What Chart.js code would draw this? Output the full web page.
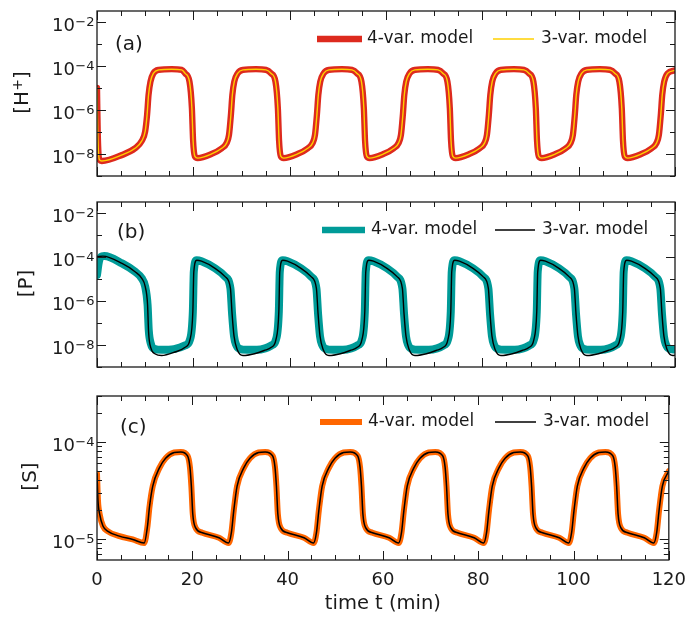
<!DOCTYPE html>
<html>
<head>
<meta charset="utf-8">
<title>Model comparison</title>
<script src="https://cdn.jsdelivr.net/npm/chart.js@4.4.0/dist/chart.umd.min.js"></script>
<style>
  body { margin: 0; background: #fff; }
  #wrap { position: relative; width: 696px; height: 619px; }
  #wrap canvas { position: absolute; left: 0; }
</style>
</head>
<body>
<div id="wrap">
  <canvas id="panelA" width="696" height="190" style="top:0"></canvas>
  <canvas id="panelB" width="696" height="190" style="top:190px"></canvas>
  <canvas id="panelC" width="696" height="239" style="top:380px"></canvas>
</div>
<script>
// ---- data (time in min, concentrations) ----
const seriesLabels = ['4-var. model', '3-var. model'];

// [H+], both models lie on top of each other
const hTime = [
  0, 0.15, 0.5, 1.0, 5.2, 7.9, 9.3, 10.0, 10.4, 10.7, 11.1, 11.7, 12.8, 15.5, 17.6,
  18.3, 19.2, 19.7, 19.95, 20.3, 20.9, 23.8, 25.9, 26.9, 27.4, 27.8, 28.1, 28.5, 29.2, 30.3, 33.0, 35.1,
  36.15, 37.05, 37.55, 37.8, 38.15, 38.75, 41.65, 43.75, 44.75, 45.25, 45.65, 45.95, 46.35, 47.05, 48.15, 50.85, 52.95,
  54.0, 54.9, 55.4, 55.65, 56.0, 56.6, 59.5, 61.6, 62.6, 63.1, 63.5, 63.8, 64.2, 64.9, 66.0, 68.7, 70.8,
  71.85, 72.75, 73.25, 73.5, 73.85, 74.45, 77.35, 79.45, 80.45, 80.95, 81.35, 81.65, 82.05, 82.75, 83.85, 86.55, 88.65,
  89.7, 90.6, 91.1, 91.35, 91.7, 92.3, 95.2, 97.3, 98.3, 98.8, 99.2, 99.5, 99.9, 100.6, 101.7, 104.4, 106.5,
  107.55, 108.45, 108.95, 109.2, 109.55, 110.15, 113.05, 115.15, 116.15, 116.65, 117.05, 117.35, 117.75, 118.45, 120
];
const hConc = [
  1e-5, 1e-7, 5.5e-9, 4.8e-9, 9e-9, 1.8e-8, 3.9e-8, 1.05e-7, 6e-7, 4.7e-6, 1.9e-5, 4.5e-5, 6.5e-5, 7e-5, 6.5e-5,
  4.5e-5, 1.9e-5, 1.2e-6, 4e-8, 8e-9, 6.5e-9, 1e-8, 1.8e-8, 3.1e-8, 7.2e-8, 5.9e-7, 4.7e-6, 1.9e-5, 4.5e-5, 6.5e-5, 7e-5, 6.5e-5,
  4.5e-5, 1.9e-5, 1.2e-6, 4e-8, 8e-9, 6.5e-9, 1e-8, 1.8e-8, 3.1e-8, 7.2e-8, 5.9e-7, 4.7e-6, 1.9e-5, 4.5e-5, 6.5e-5, 7e-5, 6.5e-5,
  4.5e-5, 1.9e-5, 1.2e-6, 4e-8, 8e-9, 6.5e-9, 1e-8, 1.8e-8, 3.1e-8, 7.2e-8, 5.9e-7, 4.7e-6, 1.9e-5, 4.5e-5, 6.5e-5, 7e-5, 6.5e-5,
  4.5e-5, 1.9e-5, 1.2e-6, 4e-8, 8e-9, 6.5e-9, 1e-8, 1.8e-8, 3.1e-8, 7.2e-8, 5.9e-7, 4.7e-6, 1.9e-5, 4.5e-5, 6.5e-5, 7e-5, 6.5e-5,
  4.5e-5, 1.9e-5, 1.2e-6, 4e-8, 8e-9, 6.5e-9, 1e-8, 1.8e-8, 3.1e-8, 7.2e-8, 5.9e-7, 4.7e-6, 1.9e-5, 4.5e-5, 6.5e-5, 7e-5, 6.5e-5,
  4.5e-5, 1.9e-5, 1.2e-6, 4e-8, 8e-9, 6.5e-9, 1e-8, 1.8e-8, 3.1e-8, 7.2e-8, 5.9e-7, 4.7e-6, 1.9e-5, 4.5e-5, 6.2e-5
];

// [P], 4-var model (thick teal)
const pTime4 = [
  0, 0.4, 1.0, 1.5, 5.2, 7.9, 9.3, 10.0, 10.5, 10.75, 11.2, 11.8, 13.5, 16.0, 18.3,
  19.3, 19.9, 20.1, 20.7, 21.7, 24.5, 26.6, 27.7, 28.05, 28.45, 28.9, 29.5, 31.2, 33.2, 34.9, 36.2,
  37.15, 37.75, 37.95, 38.55, 39.55, 42.35, 44.45, 45.55, 45.9, 46.3, 46.75, 47.35, 49.05, 51.05, 52.75, 54.05,
  55.0, 55.6, 55.8, 56.4, 57.4, 60.2, 62.3, 63.4, 63.75, 64.15, 64.6, 65.2, 66.9, 68.9, 70.6, 71.9,
  72.85, 73.45, 73.65, 74.25, 75.25, 78.05, 80.15, 81.25, 81.6, 82.0, 82.45, 83.05, 84.75, 86.75, 88.45, 89.75,
  90.7, 91.3, 91.5, 92.1, 93.1, 95.9, 98.0, 99.1, 99.45, 99.85, 100.3, 100.9, 102.6, 104.6, 106.3, 107.6,
  108.55, 109.15, 109.35, 109.95, 110.95, 113.75, 115.85, 116.95, 117.3, 117.7, 118.15, 118.75, 120
];
const pConc4 = [
  1.5e-5, 6e-5, 1.05e-4, 1.07e-4, 5e-5, 2.1e-5, 1.05e-5, 4.5e-6, 6.6e-7, 4.5e-8, 1.1e-8, 6.8e-9, 6e-9, 6.5e-9, 9.5e-9,
  1.74e-8, 3.3e-7, 2.1e-5, 7e-5, 6.3e-5, 3e-5, 1.26e-5, 3.7e-6, 2.5e-7, 2.5e-8, 1e-8, 6.8e-9, 6e-9, 6e-9, 7e-9, 9.5e-9,
  1.74e-8, 3.3e-7, 2.1e-5, 7e-5, 6.3e-5, 3e-5, 1.26e-5, 3.7e-6, 2.5e-7, 2.5e-8, 1e-8, 6.8e-9, 6e-9, 6e-9, 7e-9, 9.5e-9,
  1.74e-8, 3.3e-7, 2.1e-5, 7e-5, 6.3e-5, 3e-5, 1.26e-5, 3.7e-6, 2.5e-7, 2.5e-8, 1e-8, 6.8e-9, 6e-9, 6e-9, 7e-9, 9.5e-9,
  1.74e-8, 3.3e-7, 2.1e-5, 7e-5, 6.3e-5, 3e-5, 1.26e-5, 3.7e-6, 2.5e-7, 2.5e-8, 1e-8, 6.8e-9, 6e-9, 6e-9, 7e-9, 9.5e-9,
  1.74e-8, 3.3e-7, 2.1e-5, 7e-5, 6.3e-5, 3e-5, 1.26e-5, 3.7e-6, 2.5e-7, 2.5e-8, 1e-8, 6.8e-9, 6e-9, 6e-9, 7e-9, 9.5e-9,
  1.74e-8, 3.3e-7, 2.1e-5, 7e-5, 6.3e-5, 3e-5, 1.26e-5, 3.7e-6, 2.5e-7, 2.5e-8, 1e-8, 6.8e-9, 6.2e-9
];

// [P], 3-var model (thin black, dips lower at the minima)
const pTime3 = [
  0, 1.2, 5.2, 7.9, 9.3, 10.0, 10.5, 10.7, 11.2, 12.1, 13.4, 16.2, 18.3,
  19.3, 19.9, 20.1, 20.7, 21.7, 24.5, 26.6, 27.7, 28.05, 28.45, 29.1, 30.3, 32.7, 34.7, 36.2,
  37.15, 37.75, 37.95, 38.55, 39.55, 42.35, 44.45, 45.55, 45.9, 46.3, 46.95, 48.15, 50.55, 52.55, 54.05,
  55.0, 55.6, 55.8, 56.4, 57.4, 60.2, 62.3, 63.4, 63.75, 64.15, 64.8, 66.0, 68.4, 70.4, 71.9,
  72.85, 73.45, 73.65, 74.25, 75.25, 78.05, 80.15, 81.25, 81.6, 82.0, 82.65, 83.85, 86.25, 88.25, 89.75,
  90.7, 91.3, 91.5, 92.1, 93.1, 95.9, 98.0, 99.1, 99.45, 99.85, 100.5, 101.7, 104.1, 106.1, 107.6,
  108.55, 109.15, 109.35, 109.95, 110.95, 113.75, 115.85, 116.95, 117.3, 117.7, 118.35, 119.55, 120
];
const pConc3 = [
  1e-4, 1.07e-4, 5e-5, 2.1e-5, 1.05e-5, 4.5e-6, 6.6e-7, 4.1e-8, 7.2e-9, 3.9e-9, 3.3e-9, 4.8e-9, 7.8e-9,
  1.74e-8, 3.3e-7, 2.1e-5, 7e-5, 6.3e-5, 3e-5, 1.26e-5, 3.7e-6, 2.5e-7, 2.5e-8, 6.2e-9, 3.3e-9, 4e-9, 5.6e-9, 7.8e-9,
  1.74e-8, 3.3e-7, 2.1e-5, 7e-5, 6.3e-5, 3e-5, 1.26e-5, 3.7e-6, 2.5e-7, 2.5e-8, 6.2e-9, 3.3e-9, 4e-9, 5.6e-9, 7.8e-9,
  1.74e-8, 3.3e-7, 2.1e-5, 7e-5, 6.3e-5, 3e-5, 1.26e-5, 3.7e-6, 2.5e-7, 2.5e-8, 6.2e-9, 3.3e-9, 4e-9, 5.6e-9, 7.8e-9,
  1.74e-8, 3.3e-7, 2.1e-5, 7e-5, 6.3e-5, 3e-5, 1.26e-5, 3.7e-6, 2.5e-7, 2.5e-8, 6.2e-9, 3.3e-9, 4e-9, 5.6e-9, 7.8e-9,
  1.74e-8, 3.3e-7, 2.1e-5, 7e-5, 6.3e-5, 3e-5, 1.26e-5, 3.7e-6, 2.5e-7, 2.5e-8, 6.2e-9, 3.3e-9, 4e-9, 5.6e-9, 7.8e-9,
  1.74e-8, 3.3e-7, 2.1e-5, 7e-5, 6.3e-5, 3e-5, 1.26e-5, 3.7e-6, 2.5e-7, 2.5e-8, 6.2e-9, 3.3e-9, 3.4e-9
];

// [S], both models coincide
const sTime = [
  0, 0.2, 0.55, 1.25, 2.3, 4.7, 7.5, 9.9, 10.6, 11.0, 11.7, 13.1, 14.4, 16.2, 17.6,
  19.0, 19.5, 19.8, 20.1, 20.7, 22.1, 25.6, 27.6, 28.2, 28.7, 29.4, 30.8, 32.1, 33.9, 35.3,
  36.85, 37.35, 37.65, 37.95, 38.55, 39.95, 43.45, 45.45, 46.05, 46.55, 47.25, 48.65, 49.95, 51.75, 53.15,
  54.7, 55.2, 55.5, 55.8, 56.4, 57.8, 61.3, 63.3, 63.9, 64.4, 65.1, 66.5, 67.8, 69.6, 71.0,
  72.55, 73.05, 73.35, 73.65, 74.25, 75.65, 79.15, 81.15, 81.75, 82.25, 82.95, 84.35, 85.65, 87.45, 88.85,
  90.4, 90.9, 91.2, 91.5, 92.1, 93.5, 97.0, 99.0, 99.6, 100.1, 100.8, 102.2, 103.5, 105.3, 106.7,
  108.25, 108.75, 109.05, 109.35, 109.95, 111.35, 114.85, 116.85, 117.45, 117.95, 118.65, 120
];
const sConc = [
  4.7e-5, 2.5e-5, 1.8e-5, 1.35e-5, 1.19e-5, 1.06e-5, 9.8e-6, 9e-6, 1.35e-5, 2.1e-5, 3.5e-5, 5.4e-5, 6.8e-5, 7.8e-5, 7.9e-5,
  7.2e-5, 5.5e-5, 3.5e-5, 1.8e-5, 1.29e-5, 1.15e-5, 1.02e-5, 9e-6, 1.15e-5, 1.95e-5, 3.5e-5, 5.4e-5, 6.8e-5, 7.8e-5, 7.9e-5,
  7.2e-5, 5.5e-5, 3.5e-5, 1.8e-5, 1.29e-5, 1.15e-5, 1.02e-5, 9e-6, 1.15e-5, 1.95e-5, 3.5e-5, 5.4e-5, 6.8e-5, 7.8e-5, 7.9e-5,
  7.2e-5, 5.5e-5, 3.5e-5, 1.8e-5, 1.29e-5, 1.15e-5, 1.02e-5, 9e-6, 1.15e-5, 1.95e-5, 3.5e-5, 5.4e-5, 6.8e-5, 7.8e-5, 7.9e-5,
  7.2e-5, 5.5e-5, 3.5e-5, 1.8e-5, 1.29e-5, 1.15e-5, 1.02e-5, 9e-6, 1.15e-5, 1.95e-5, 3.5e-5, 5.4e-5, 6.8e-5, 7.8e-5, 7.9e-5,
  7.2e-5, 5.5e-5, 3.5e-5, 1.8e-5, 1.29e-5, 1.15e-5, 1.02e-5, 9e-6, 1.15e-5, 1.95e-5, 3.5e-5, 5.4e-5, 6.8e-5, 7.8e-5, 7.9e-5,
  7.2e-5, 5.5e-5, 3.5e-5, 1.8e-5, 1.29e-5, 1.15e-5, 1.02e-5, 9e-6, 1.15e-5, 1.95e-5, 3.5e-5, 5e-5
];

// ticks
const xMajor = [0, 20, 40, 60, 80, 100, 120];
const xMinor = [5, 10, 15, 25, 30, 35, 45, 50, 55, 65, 70, 75, 85, 90, 95, 105, 110, 115];
const yLabelsAB = [1e-8, 1e-6, 1e-4, 1e-2];
const yMinorAB = [1e-9, 1e-7, 1e-5, 1e-3];
const yLabelsC = [1e-5, 1e-4];
const yMinorC = [7e-6, 8e-6, 9e-6, 2e-5, 3e-5, 4e-5, 5e-5, 6e-5, 7e-5, 8e-5, 9e-5, 2e-4, 3e-4];

const FONT = '"DejaVu Sans"';
const INK = '#1a1a1a';

function powLabel(v) {
    const e = Math.round(Math.log10(v));
    return { base: '10', sup: (e < 0 ? '\u2212' : '') + Math.abs(e) };
}

function lineSet(label, times, conc, color, width, order) {
    return {
        label: label,
        data: times.map((t, i) => ({ x: t, y: conc[i] })),
        borderColor: color,
        backgroundColor: color,
        borderWidth: width,
        borderJoinStyle: 'round',
        borderCapStyle: 'round',
        pointRadius: 0,
        cubicInterpolationMode: 'monotone',
        fill: false,
        clip: 0,
        order: order
    };
}

// frame, inward ticks, legend, panel tag, y labels with superscripts
function overlay(cfg) {
    return {
        id: 'overlay',
        afterDatasetsDraw(chart) {
            const { ctx, chartArea: a, scales } = chart;
            ctx.save();
            ctx.strokeStyle = INK;
            ctx.lineWidth = 1;
            const tick = (vals, len, horiz) => {
                vals.forEach(v => {
                    ctx.beginPath();
                    if (horiz) {
                        const x = Math.round(scales.x.getPixelForValue(v)) + 0.5;
                        ctx.moveTo(x, a.bottom); ctx.lineTo(x, a.bottom - len);
                        ctx.moveTo(x, a.top); ctx.lineTo(x, a.top + len);
                    } else {
                        const y = Math.round(scales.y.getPixelForValue(v)) + 0.5;
                        ctx.moveTo(a.left, y); ctx.lineTo(a.left + len, y);
                        ctx.moveTo(a.right, y); ctx.lineTo(a.right - len, y);
                    }
                    ctx.stroke();
                });
            };
            tick(xMajor, 9, true);
            tick(xMinor, 5, true);
            tick(cfg.yMajor, 9, false);
            tick(cfg.yMinor, 5, false);

            ctx.lineWidth = 1.3;
            ctx.strokeRect(a.left, a.top, a.right - a.left, a.bottom - a.top);

            // y tick labels: 10 with raised exponent
            ctx.fillStyle = INK;
            ctx.textBaseline = 'alphabetic';
            ctx.textAlign = 'left';
            cfg.yMajor.forEach(v => {
                const y = scales.y.getPixelForValue(v);
                const lab = powLabel(v);
                ctx.font = '18px ' + FONT;
                const wb = ctx.measureText(lab.base).width;
                ctx.font = '13px ' + FONT;
                const ws = ctx.measureText(lab.sup).width;
                const x0 = a.left - 3 - ws - wb;
                ctx.font = '18px ' + FONT;
                ctx.fillText(lab.base, x0, y + 9);
                ctx.font = '13px ' + FONT;
                ctx.fillText(lab.sup, x0 + wb + 0.5, y + 4);
            });

            // y axis title, rotated, with optional superscript
            ctx.save();
            ctx.translate(cfg.yTitleX, (a.top + a.bottom) / 2 + cfg.yTitleDy);
            ctx.rotate(-Math.PI / 2);
            ctx.textBaseline = 'middle';
            const parts = cfg.yTitle;
            let total = 0;
            parts.forEach(p => { ctx.font = (p.sup ? '14px ' : '20px ') + FONT; total += ctx.measureText(p.t).width; });
            let cx = -total / 2;
            parts.forEach(p => {
                ctx.font = (p.sup ? '14px ' : '20px ') + FONT;
                ctx.fillText(p.t, cx, p.sup ? -5 : 0);
                cx += ctx.measureText(p.t).width;
            });
            ctx.restore();

            // legend
            ctx.font = '17px ' + FONT;
            ctx.textBaseline = 'middle';
            cfg.legend.forEach((item, i) => {
                const ds = chart.data.datasets[i];
                ctx.beginPath();
                ctx.strokeStyle = ds.borderColor;
                ctx.lineWidth = Math.min(ds.borderWidth, 6.5);
                ctx.lineCap = 'butt';
                ctx.moveTo(item.x0, cfg.legendY);
                ctx.lineTo(item.x1, cfg.legendY);
                ctx.stroke();
                ctx.fillStyle = INK;
                ctx.fillText(ds.label, item.tx, cfg.legendY);
            });

            // panel tag
            ctx.font = '20px ' + FONT;
            ctx.fillText(cfg.tag, cfg.tagX, cfg.tagY);
            ctx.restore();
        }
    };
}

function makePanel(id, cfg) {
    return new Chart(document.getElementById(id), {
        type: 'line',
        data: { datasets: cfg.datasets },
        options: {
            responsive: false,
            animation: false,
            events: [],
            layout: { padding: { top: cfg.padTop, right: 21, left: 0, bottom: 0 } },
            plugins: { legend: { display: false }, tooltip: { enabled: false } },
            scales: {
                x: {
                    type: 'linear',
                    min: 0,
                    max: 120,
                    afterBuildTicks: s => { s.ticks = xMajor.map(v => ({ value: v })); },
                    afterFit: s => { s.height = cfg.xHeight; },
                    grid: { display: false, drawTicks: false },
                    border: { display: false },
                    ticks: {
                        display: cfg.showX,
                        autoSkip: false,
                        maxRotation: 0,
                        padding: 10,
                        color: INK,
                        font: { family: 'DejaVu Sans', size: 18 }
                    },
                    title: {
                        display: cfg.showX,
                        text: 'time t (min)',
                        color: INK,
                        font: { family: 'DejaVu Sans', size: 19.5 },
                        padding: { top: 0, bottom: 3 }
                    }
                },
                y: {
                    type: 'logarithmic',
                    min: cfg.yMin,
                    max: cfg.yMax,
                    afterBuildTicks: s => { s.ticks = cfg.yMajor.map(v => ({ value: v })); },
                    afterFit: s => { s.width = 97; },
                    grid: { display: false, drawTicks: false },
                    border: { display: false },
                    ticks: { display: false },
                    title: { display: false }
                }
            }
        },
        plugins: [overlay(cfg)]
    });
}

// panel (a): [H+]
makePanel('panelA', {
    datasets: [
        lineSet(seriesLabels[0], hTime, hConc, '#dd2a1e', 6.3, 2),
        lineSet(seriesLabels[1], hTime, hConc, '#ffd000', 1.4, 1)
    ],
    padTop: 11, xHeight: 14, showX: false,
    yMin: 1e-9, yMax: 3.05e-2,
    yMajor: yLabelsAB, yMinor: yMinorAB,
    yTitle: [{ t: '[H' }, { t: '+', sup: true }, { t: ']' }], yTitleX: 23, yTitleDy: -1,
    legendY: 39,
    legend: [{ x0: 317, x1: 362, tx: 367 }, { x0: 493, x1: 534, tx: 541 }],
    tag: '(a)', tagX: 115, tagY: 45
});

// panel (b): [P]
makePanel('panelB', {
    datasets: [
        lineSet(seriesLabels[0], pTime4, pConc4, '#009b98', 8, 2),
        lineSet(seriesLabels[1], pTime3, pConc3, '#000000', 1.4, 1)
    ],
    padTop: 12, xHeight: 13, showX: false,
    yMin: 1e-9, yMax: 3.05e-2,
    yMajor: yLabelsAB, yMinor: yMinorAB,
    yTitle: [{ t: '[P]' }], yTitleX: 27, yTitleDy: -1,
    legendY: 40,
    legend: [{ x0: 322, x1: 365, tx: 371 }, { x0: 495, x1: 535, tx: 542 }],
    tag: '(b)', tagX: 117, tagY: 43
});

// panel (c): [S]
makePanel('panelC', {
    datasets: [
        lineSet(seriesLabels[0], sTime, sConc, '#ff6600', 6, 2),
        lineSet(seriesLabels[1], sTime, sConc, '#000000', 1.5, 1)
    ],
    padTop: 16, xHeight: 59, showX: true,
    yMin: 6e-6, yMax: 3e-4,
    yMajor: yLabelsC, yMinor: yMinorC,
    yTitle: [{ t: '[S]' }], yTitleX: 31, yTitleDy: -1.5,
    legendY: 42,
    legend: [{ x0: 320, x1: 362, tx: 368 }, { x0: 495, x1: 536, tx: 543 }],
    tag: '(c)', tagX: 120, tagY: 48
});
</script>
</body>
</html>
